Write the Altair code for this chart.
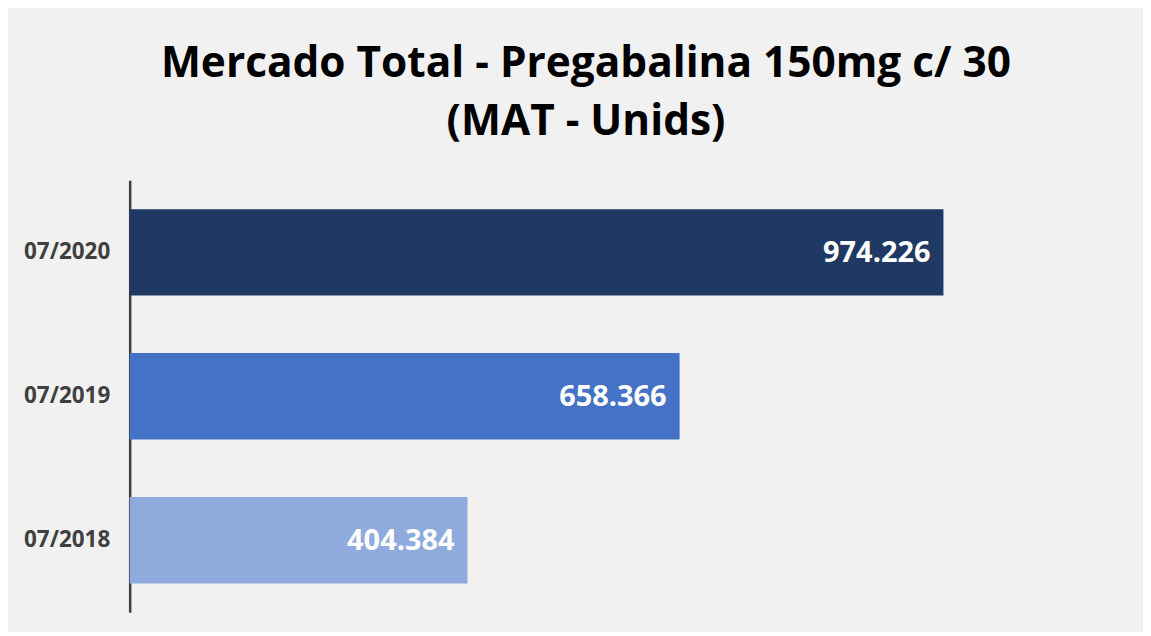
import altair as alt
import pandas as pd

periods = ["07/2020", "07/2019", "07/2018"]
units = [974226, 658366, 404384]
colors = ["#203864", "#4472c4", "#8faadc"]

labels = [f"{v:,}".replace(",", ".") for v in units]
df = pd.DataFrame({"period": periods, "units": units, "label": labels})

y_enc = alt.Y("period:N", sort=periods, title=None,
              scale=alt.Scale(paddingInner=0.4, paddingOuter=0.2),
              axis=alt.Axis(ticks=False, grid=False, domain=True, domainColor="#404040",
                            domainWidth=2.5, labelFont="Open Sans", labelFontWeight="bold",
                            labelFontSize=22.5, labelColor="#404040", labelPadding=20))
x_enc = alt.X("units:Q", scale=alt.Scale(domain=[0, 1200000], nice=False), axis=None)

bars = alt.Chart(df).mark_bar(cornerRadius=0).encode(
    x=x_enc, y=y_enc,
    color=alt.Color("period:N", scale=alt.Scale(domain=periods, range=colors), legend=None),
)
text = alt.Chart(df).mark_text(align="right", baseline="middle", dx=-13, dy=1,
                               font="Open Sans", fontWeight="bold", fontSize=29,
                               color="white").encode(
    x=x_enc, y=alt.Y("period:N", sort=periods), text="label:N")

chart = alt.layer(bars, text).properties(
    width=1005, height=433,
    title=alt.TitleParams(["Mercado Total - Pregabalina 150mg c/ 30", "(MAT - Unids)"],
                          font="Open Sans", fontWeight="bold", fontSize=42.5, color="#000000",
                          lineHeight=58, anchor="middle", dx=-45, offset=37),
    background="#f1f1f1",
    autosize=alt.AutoSizeParams(type="none"),
    padding={"left": 122, "top": 172, "right": 11, "bottom": 19},
).configure_view(stroke=None)

chart.save("out.html", embed_options={"renderer": "svg", "actions": False})
